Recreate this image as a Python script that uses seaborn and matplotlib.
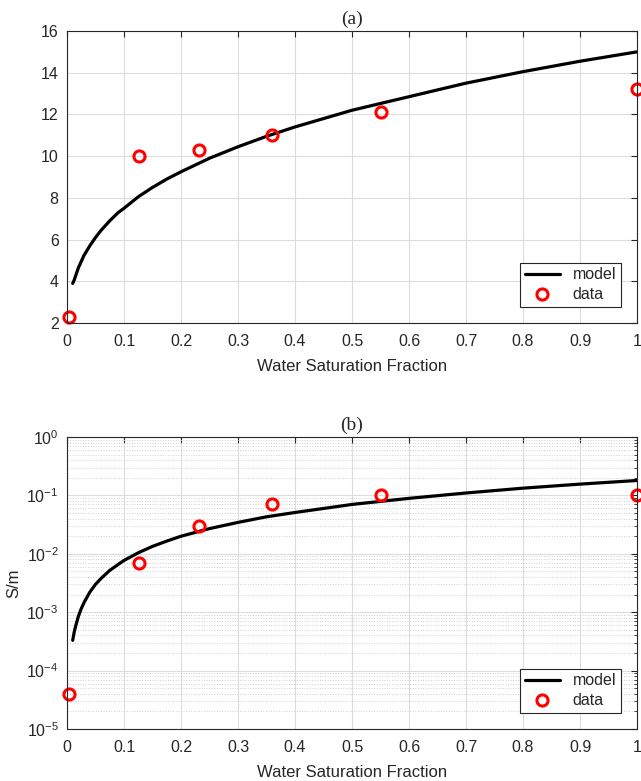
import numpy as np
import pandas as pd
import matplotlib
matplotlib.use("Agg")
import matplotlib.pyplot as plt
import seaborn as sns

# model curve
model_x = [0.01, 0.0125, 0.015, 0.02, 0.025, 0.03, 0.04, 0.05, 0.06, 0.075, 0.09,
           0.1, 0.125, 0.15, 0.175, 0.2, 0.25, 0.3, 0.35, 0.4, 0.5, 0.6, 0.7,
           0.8, 0.9, 1.0]
model_a = [3.9, 4.05, 4.25, 4.65, 4.95, 5.25, 5.7, 6.1, 6.45, 6.9, 7.3,
           7.5, 8.05, 8.5, 8.9, 9.25, 9.9, 10.45, 10.95, 11.4, 12.2, 12.85, 13.5,
           14.05, 14.55, 15.0]
model_b = [3.3e-4, 4.5e-4, 5.7e-4, 8.5e-4, 1.15e-3, 1.47e-3, 2.2e-3, 3.0e-3, 3.8e-3,
           5.2e-3, 6.6e-3, 7.7e-3, 1.04e-2, 1.34e-2, 1.65e-2, 2.0e-2, 2.7e-2,
           3.45e-2, 4.3e-2, 5.1e-2, 7.0e-2, 8.9e-2, 1.1e-1, 1.33e-1, 1.56e-1, 1.8e-1]

# measured data
data_x = [0.003, 0.127, 0.232, 0.36, 0.55, 1.0]
data_a = [2.3, 10.0, 10.3, 11.0, 12.1, 13.2]
data_b = [4e-5, 7e-3, 3e-2, 7e-2, 1e-1, 1e-1]

sns.set_style("white")
plt.rcParams['font.family'] = ['Liberation Sans', 'DejaVu Sans']
plt.rcParams['mathtext.default'] = 'regular'
plt.rcParams['font.size'] = 11

fig = plt.figure(figsize=(6.41, 7.81), dpi=100)
ax1 = fig.add_axes([67 / 641, 1 - 323 / 781, 570 / 641, 292 / 781])
ax2 = fig.add_axes([67 / 641, 1 - 729 / 781, 570 / 641, 292 / 781])

model_df_a = pd.DataFrame({'x': model_x, 'y': model_a})
data_df_a = pd.DataFrame({'x': data_x, 'y': data_a})
model_df_b = pd.DataFrame({'x': model_x, 'y': model_b})
data_df_b = pd.DataFrame({'x': data_x, 'y': data_b})

for ax, mdf, ddf, title in [(ax1, model_df_a, data_df_a, '(a)'),
                            (ax2, model_df_b, data_df_b, '(b)')]:
    sns.lineplot(data=mdf, x='x', y='y', ax=ax, color='black', linewidth=2.3,
                 label='model')
    sns.lineplot(data=ddf, x='x', y='y', ax=ax, linestyle='', marker='o',
                 markerfacecolor='none', markeredgecolor='red', markeredgewidth=2.2,
                 markersize=8, label='data', clip_on=False)
    ax.set_xlim(0, 1)
    ax.set_xticks(np.arange(0, 1.01, 0.1))
    ax.set_xticklabels(['0', '0.1', '0.2', '0.3', '0.4', '0.5', '0.6', '0.7',
                        '0.8', '0.9', '1'])
    ax.set_xlabel('Water Saturation Fraction', fontsize=12, color='#262626',
                  labelpad=7)
    ax.set_title(title, family='Liberation Serif', fontsize=14, pad=5)
    ax.tick_params(direction='in', top=True, right=True, length=4,
                   colors='#262626', labelsize=11.5)
    ax.tick_params(axis='x', pad=8)
    ax.tick_params(axis='y', pad=6)
    ax.tick_params(which='minor', direction='in', right=True, length=2)
    for s in ax.spines.values():
        s.set_color('#262626')
        s.set_linewidth(0.8)
    ax.grid(True, which='major', color='#dcdcdc', linewidth=0.8)
    ax.set_axisbelow(True)
    leg = ax.legend(loc='lower right', fancybox=False, framealpha=1,
                    edgecolor='#262626', fontsize=11.5, borderaxespad=1.0,
                    handlelength=2.2, borderpad=0.3, labelspacing=0.3)
    leg.get_frame().set_linewidth(0.8)

ax1.set_ylim(2, 16)
ax1.set_yticks(range(2, 17, 2))
ax1.set_ylabel('')

ax2.set_yscale('log')
ax2.set_ylim(1e-5, 1)
ax2.set_yticks([1e-5, 1e-4, 1e-3, 1e-2, 1e-1, 1])
ax2.grid(True, which='minor', axis='y', color='#cfcfcf', linewidth=0.7,
         linestyle=':')
ax2.set_ylabel('S/m', fontsize=12, color='#262626')

plt.savefig('out.png', dpi=100)
